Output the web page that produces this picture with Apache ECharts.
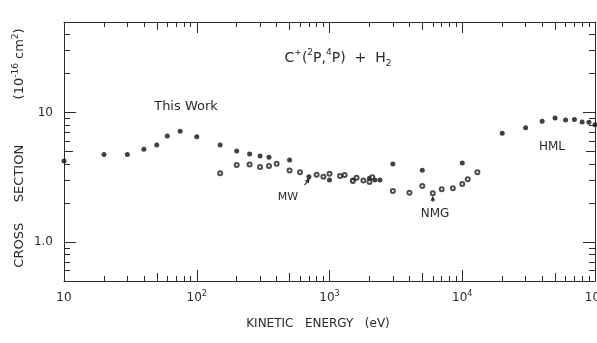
<!DOCTYPE html>
<html>
<head>
<meta charset="utf-8">
<style>
  html, body { margin: 0; padding: 0; background: #fff; }
  #chart { width: 597px; height: 343px; background: #fff; }
</style>
<script src="https://cdn.jsdelivr.net/npm/echarts@6/dist/echarts.min.js"></script>
</head>
<body>
<div id="chart"></div>
<script>
// Cross sections (10^-16 cm^2) against kinetic energy (eV)
const thisWorkEnergy = [10, 20, 30, 40, 50, 60, 75, 100, 150, 200, 250, 300, 350, 500, 700, 1000, 1500, 2000, 2200, 2400, 3000, 5000, 10000];
const thisWorkSigma = [4.22, 4.75, 4.75, 5.2, 5.61, 6.59, 7.16, 6.5, 5.61, 5.04, 4.78, 4.61, 4.51, 4.3, 3.19, 3.01, 3.01, 3.11, 3.01, 3.01, 4.0, 3.58, 4.08];

const hmlEnergy = [20000, 30000, 40000, 50000, 60000, 70000, 80000, 90000, 100000];
const hmlSigma = [6.91, 7.63, 8.55, 9.07, 8.76, 8.85, 8.45, 8.4, 8.05];

const mwEnergy = [150, 200, 250, 300, 350, 400, 500, 600, 800, 900, 1000, 1200, 1300, 1500, 1600, 1800, 2000, 2100];
const mwSigma = [3.39, 3.93, 3.96, 3.8, 3.87, 4.02, 3.57, 3.46, 3.31, 3.19, 3.37, 3.24, 3.29, 2.96, 3.14, 2.98, 2.91, 3.16];

const nmgEnergy = [3000, 4000, 5000, 6000, 7000, 8500, 10000, 11000, 13000];
const nmgSigma = [2.48, 2.4, 2.71, 2.38, 2.55, 2.6, 2.81, 3.05, 3.45];

// arrows: [from, to] in data units
const mwArrow = [[650, 2.75], [710, 3.12]];
const nmgArrow = [[6000, 2.05], [6000, 2.28]];

// axis ticks
const xMajor = [10, 100, 1000, 10000, 100000];
const xMid = [50, 500, 5000, 50000];
const yMajor = [1, 10];
const yMid = [0.5, 5, 50];
const minorSteps = [2, 3, 4, 6, 7, 8, 9];
const xDecades = [10, 100, 1000, 10000];
const yDecades = [0.1, 1, 10];

const xMinor = [];
xDecades.forEach(d => minorSteps.forEach(m => xMinor.push(+(d * m).toPrecision(6))));
const yMinor = [];
yDecades.forEach(d => minorSteps.forEach(m => {
    const v = +(d * m).toPrecision(6);
    if (v > 0.5 && v < 50) yMinor.push(v);
}));

const ink = '#2a2a2a';
const font = '"DejaVu Sans", "Liberation Sans", sans-serif';

function toPairs(xs, ys) {
    return xs.map((x, i) => [x, ys[i]]);
}

// one axis per tick length so major / mid / minor ticks differ
function makeX(position, ticks, len, main) {
    const ax = {
        type: 'log', min: 10, max: 100000,
        position: position,
        axisLine: { show: main, onZero: false, lineStyle: { color: ink, width: 1 } },
        axisTick: { show: true, inside: true, length: len, customValues: ticks, lineStyle: { color: ink, width: 1 } },
        axisLabel: { show: false },
        splitLine: { show: false }
    };
    if (main && position === 'bottom') {
        ax.axisLabel = {
            customValues: xMajor,
            margin: 9,
            color: ink,
            fontFamily: font,
            fontSize: 12,
            lineHeight: 16,
            formatter: v => {
                const e = Math.round(Math.log10(v));
                return e === 1 ? '10' : '10{sup|' + e + '}';
            },
            rich: { sup: { fontSize: 8, verticalAlign: 'top', lineHeight: 10, color: ink, fontFamily: font } }
        };
    }
    return ax;
}

function makeY(position, ticks, len, main) {
    const ax = {
        type: 'log', min: 0.5, max: 50,
        position: position,
        axisLine: { show: main, onZero: false, lineStyle: { color: ink, width: 1 } },
        axisTick: { show: true, inside: true, length: len, customValues: ticks, lineStyle: { color: ink, width: 1 } },
        axisLabel: { show: false },
        splitLine: { show: false }
    };
    if (main && position === 'left') {
        ax.axisLabel = {
            customValues: yMajor,
            margin: 11,
            color: ink,
            fontFamily: font,
            fontSize: 12,
            formatter: v => (v === 1 ? '1.0' : '10')
        };
    }
    return ax;
}

const xAxes = [];
const yAxes = [];
['bottom', 'top'].forEach(pos => {
    xAxes.push(makeX(pos, xMajor, 11, true));
    xAxes.push(makeX(pos, xMid, 8, false));
    xAxes.push(makeX(pos, xMinor, 5, false));
});
['left', 'right'].forEach(pos => {
    yAxes.push(makeY(pos, yMajor, 12, true));
    yAxes.push(makeY(pos, yMid, 9, false));
    yAxes.push(makeY(pos, yMinor, 6, false));
});

const filled = { symbol: 'circle', symbolSize: 5, itemStyle: { color: '#111' } };
const open = { symbol: 'emptyCircle', symbolSize: 4, itemStyle: { color: '#222', borderWidth: 0.9 } };

const chart = echarts.init(document.getElementById('chart'));
chart.setOption({
    animation: false,
    grid: { left: 64, right: 2, top: 22, bottom: 62, containLabel: false, outerBoundsMode: 'none' },
    xAxis: xAxes,
    yAxis: yAxes,
    series: [
        Object.assign({ name: 'This Work', type: 'scatter', data: toPairs(thisWorkEnergy, thisWorkSigma) }, filled),
        Object.assign({ name: 'HML', type: 'scatter', data: toPairs(hmlEnergy, hmlSigma) }, filled),
        Object.assign({ name: 'MW', type: 'scatter', data: toPairs(mwEnergy, mwSigma) }, open),
        Object.assign({ name: 'NMG', type: 'scatter', data: toPairs(nmgEnergy, nmgSigma) }, open)
    ]
});

// arrows placed through the chart's own scales
function arrowShapes(pair) {
    const p0 = chart.convertToPixel({ xAxisIndex: 0, yAxisIndex: 0 }, pair[0]);
    const p1 = chart.convertToPixel({ xAxisIndex: 0, yAxisIndex: 0 }, pair[1]);
    const dx = p1[0] - p0[0], dy = p1[1] - p0[1];
    const n = Math.hypot(dx, dy) || 1;
    const ux = dx / n, uy = dy / n;
    const bx = p1[0] - ux * 5, by = p1[1] - uy * 5;
    return [
        { type: 'line', silent: true, shape: { x1: p0[0], y1: p0[1], x2: bx, y2: by }, style: { stroke: ink, lineWidth: 1.2 } },
        { type: 'polygon', silent: true,
          shape: { points: [[p1[0], p1[1]], [bx - uy * 2.3, by + ux * 2.3], [bx + uy * 2.3, by - ux * 2.3]] },
          style: { fill: ink } }
    ];
}

const textEl = (x, y, text, size) => ({
    type: 'text', x: x, y: y, silent: true,
    style: { text: text, fontFamily: font, fontSize: size, fill: ink, align: 'center', verticalAlign: 'middle' }
});

chart.setOption({
    graphic: [
        textEl(186, 107, 'This Work', 13),
        { type: 'text', x: 338, y: 58, silent: true,
          style: {
              text: 'C{sup|+}({sup|2}P,{sup|4}P)  +  H{sub|2}',
              fontFamily: font, fontSize: 14, lineHeight: 20, fill: ink, align: 'center', verticalAlign: 'middle',
              rich: {
                  sup: { fontSize: 9, verticalAlign: 'top', lineHeight: 12, fill: ink, fontFamily: font },
                  sub: { fontSize: 9, verticalAlign: 'bottom', lineHeight: 10, fill: ink, fontFamily: font }
              }
          } },
        textEl(288, 197, 'MW', 11),
        textEl(435, 214, 'NMG', 12),
        textEl(552, 147, 'HML', 12),
        textEl(318, 324, 'KINETIC   ENERGY   (eV)', 12),
        { type: 'text', x: 20, y: 148, rotation: Math.PI / 2, silent: true,
          style: {
              text: 'CROSS     SECTION           (10{sup|-16} cm{sup|2})',
              fontFamily: font, fontSize: 13, lineHeight: 18, fill: ink, align: 'center', verticalAlign: 'middle',
              rich: { sup: { fontSize: 9, verticalAlign: 'top', lineHeight: 12, fill: ink, fontFamily: font } }
          } }
    ].concat(arrowShapes(mwArrow), arrowShapes(nmgArrow))
});
</script>
</body>
</html>
